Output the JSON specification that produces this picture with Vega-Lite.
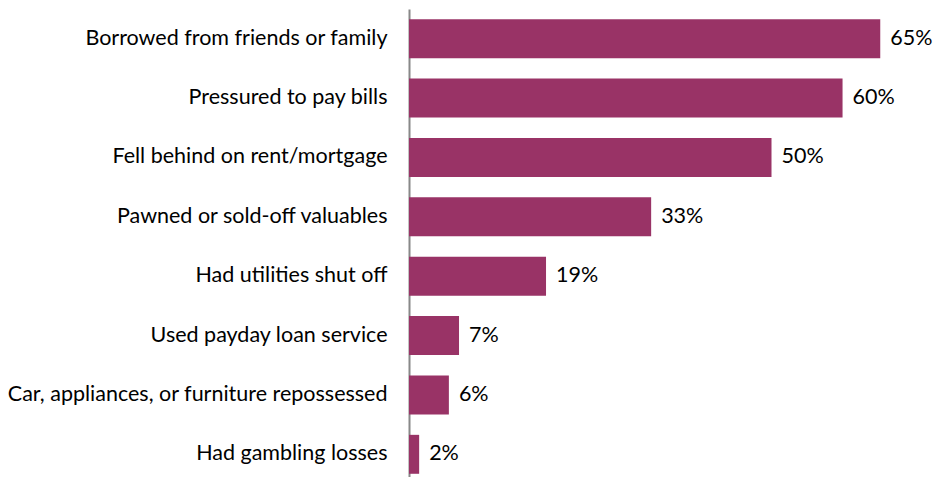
{
  "$schema": "https://vega.github.io/schema/vega-lite/v6.json",
  "autosize": {"type": "none"},
  "padding": {"left": 409, "top": 9, "right": 0, "bottom": 0},
  "width": 580,
  "height": 475,
  "background": "white",
  "config": {"view": {"stroke": null}, "font": "Lato"},
  "data": {"values": [
    {"item": "Borrowed from friends or family", "value": 65, "label": "65%"},
    {"item": "Pressured to pay bills", "value": 59.8, "label": "60%"},
    {"item": "Fell behind on rent/mortgage", "value": 50, "label": "50%"},
    {"item": "Pawned or sold-off valuables", "value": 33.4, "label": "33%"},
    {"item": "Had utilities  shut off", "value": 18.9, "label": "19%"},
    {"item": "Used payday loan service", "value": 6.9, "label": "7%"},
    {"item": "Car, appliances, or furniture repossessed", "value": 5.5, "label": "6%"},
    {"item": "Had gambling losses", "value": 1.4, "label": "2%"}
  ]},
  "encoding": {
    "y": {"field": "item", "type": "nominal", "sort": null,
      "scale": {"paddingInner": 0.344, "paddingOuter": 0.172},
      "axis": {"title": null, "ticks": false, "domainColor": "#888888", "domainWidth": 2,
        "labelFontSize": 21.5, "labelColor": "#000000", "labelPadding": 22, "labelLimit": 500, "labelFont": "Lato"}},
    "x": {"field": "value", "type": "quantitative",
      "scale": {"domain": [0, 80], "nice": false}, "axis": null}
  },
  "layer": [
    {"mark": {"type": "bar", "color": "#993366"}},
    {"mark": {"type": "text", "align": "left", "baseline": "middle", "dx": 10, "fontSize": 21.5, "color": "#000000", "font": "Lato"},
     "encoding": {"text": {"field": "label"}}}
  ]
}
